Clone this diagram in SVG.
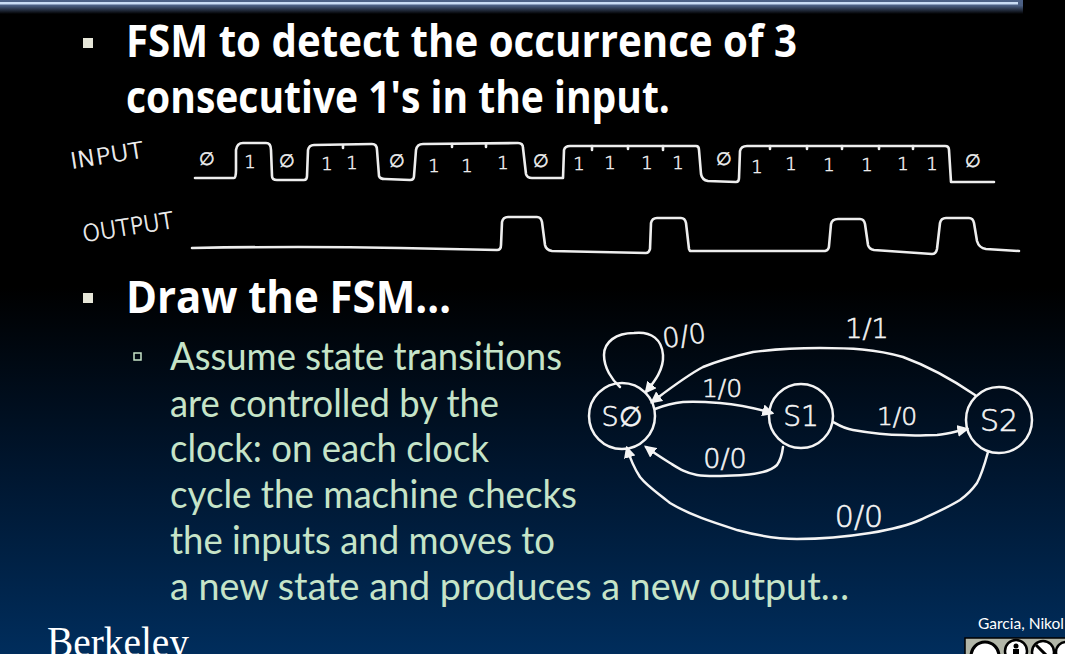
<svg xmlns="http://www.w3.org/2000/svg" width="1065" height="654" viewBox="0 0 1065 654">
<style>
.title{font-family:"Open Sans","Liberation Sans",sans-serif;font-weight:700;font-size:44px;fill:#fff}
.sub{font-family:"Lato","Liberation Sans",sans-serif;font-weight:400;font-size:38px;fill:#c6e4c8}
.hw{fill:none;stroke:#f4f4f4;stroke-width:2.5;stroke-linecap:round;stroke-linejoin:round}
.wave{fill:none;stroke:#eee;stroke-width:2.6;stroke-linecap:round;stroke-linejoin:round}
.lab{font-family:"DejaVu Sans",sans-serif;font-weight:200;fill:#f4f4f4;stroke:#f4f4f4;stroke-width:.6;text-anchor:middle}
.bit{font-family:"DejaVu Sans",sans-serif;font-weight:200;font-size:18px;fill:#f0f0f0;stroke:#f0f0f0;stroke-width:.5;text-anchor:middle}
.node{fill:none;stroke:#f4f4f4;stroke-width:2.5}
</style>
<defs>
<linearGradient id="bg" x1="0" y1="0" x2="0" y2="1">
<stop offset="0" stop-color="#000"/><stop offset="0.44" stop-color="#000"/><stop offset="0.72" stop-color="#00162f"/><stop offset="1" stop-color="#002d5c"/>
</linearGradient>
<linearGradient id="glow" x1="0" y1="0" x2="0" y2="1">
<stop offset="0" stop-color="#4d6288"/><stop offset="0.4" stop-color="#4a5e82"/><stop offset="1" stop-color="#000"/>
</linearGradient>
<marker id="arr" viewBox="0 0 10 10" refX="8" refY="5" markerWidth="12" markerHeight="12" markerUnits="userSpaceOnUse" orient="auto"><path d="M0 0L10 5L0 10Z" fill="#f4f4f4"/></marker>
</defs>
<rect width="1065" height="654" fill="url(#bg)"/>
<rect x="0" y="0" width="1023" height="14" fill="url(#glow)"/>
<rect x="0" y="2" width="1018" height="2.5" fill="#c9dcf4"/>

<g id="heading">
<rect x="83" y="38" width="10" height="10" fill="#e6e6d8"/>
<text class="title" x="126" y="57" textLength="671" lengthAdjust="spacingAndGlyphs">FSM to detect the occurrence of 3</text>
<text class="title" x="126" y="113" textLength="544" lengthAdjust="spacingAndGlyphs">consecutive 1's in the input.</text>
<rect x="83" y="293" width="10" height="10" fill="#e6e6d8"/>
<text class="title" x="126" y="313" textLength="325" lengthAdjust="spacingAndGlyphs">Draw the FSM…</text>
<rect x="134" y="353" width="7" height="7" fill="none" stroke="#c6e4c8" stroke-width="1.5"/>
<text class="sub" x="170" y="370" textLength="392" lengthAdjust="spacingAndGlyphs">Assume state transitions</text>
<text class="sub" x="170" y="417" textLength="329" lengthAdjust="spacingAndGlyphs">are controlled by the</text>
<text class="sub" x="170" y="462" textLength="319" lengthAdjust="spacingAndGlyphs">clock: on each clock</text>
<text class="sub" x="170" y="508" textLength="407" lengthAdjust="spacingAndGlyphs">cycle the machine checks</text>
<text class="sub" x="170" y="554" textLength="385" lengthAdjust="spacingAndGlyphs">the inputs and moves to</text>
<text class="sub" x="170" y="600" textLength="679" lengthAdjust="spacingAndGlyphs">a new state and produces a new output…</text>
</g>

<g id="waveforms">
<text class="lab" font-size="22" x="107" y="163" transform="rotate(-9 107 157)" textLength="74" lengthAdjust="spacingAndGlyphs">INPUT</text>
<text class="lab" font-size="23" x="128" y="235" transform="rotate(-9 128 228)" textLength="92" lengthAdjust="spacingAndGlyphs">OUTPUT</text>
<path class="wave" d="M195 178L234 178Q236 178 236 170L236 150Q237 143 243 143L266 143Q271 143 271 150L272 176Q272 180 277 180L304 180Q307 180 307 176L308 150Q309 145 314 145L372 144Q377 144 377 150L379 176Q380 179 385 179L410 180Q414 180 414 176L416 150Q417 144 423 144L518 143Q523 143 523 148L526 174Q527 178 532 178L563 178L564 150Q565 146 570 146L696 146Q699 146 699 150L701 174Q702 180 708 181L736 182Q739 182 739 178L740 151Q741 146 747 146L945 146Q949 146 949 150L951 182L994 182"/>
<path class="wave" d="M343 145v3M452 144v3M486 144v3M592 146v4M628 146v3M663 146v4M770 146v3M807 146v3M842 146v3M879 146v3M913 146v3"/>
<path class="wave" d="M192 248Q300 246 400 248T497 250Q501 250 501 245L502 222Q503 217 508 217L537 217Q541 217 542 222L545 245Q546 250 552 251L646 253Q649 253 650 249L651 223Q652 218 657 218L681 218Q685 218 686 223L689 249L690 251L825 251Q829 250 829 246L831 224Q832 219 838 219L860 219Q864 219 865 224L868 245Q869 249 874 250L932 254Q936 254 937 249L940 223Q941 218 946 218L969 218Q973 218 974 223L977 241Q979 248 986 249L1019 251"/>
<g>
<text class="bit" x="207" y="165">∅</text><text class="bit" x="250" y="168">1</text><text class="bit" x="287" y="167">∅</text><text class="bit" x="327" y="170">1</text><text class="bit" x="352" y="169">1</text><text class="bit" x="397" y="167">∅</text><text class="bit" x="434" y="172">1</text><text class="bit" x="467" y="172">1</text><text class="bit" x="503" y="169">1</text><text class="bit" x="541" y="167">∅</text>
<text class="bit" x="579" y="170">1</text><text class="bit" x="610" y="169">1</text><text class="bit" x="647" y="169">1</text><text class="bit" x="678" y="169">1</text><text class="bit" x="724" y="165">∅</text><text class="bit" x="757" y="173">1</text><text class="bit" x="791" y="170">1</text><text class="bit" x="829" y="171">1</text><text class="bit" x="867" y="171">1</text><text class="bit" x="903" y="170">1</text><text class="bit" x="932" y="170">1</text><text class="bit" x="973" y="167">∅</text>
</g>
</g>

<g id="connectors">
<path class="hw" marker-end="url(#arr)" d="M620 387C612 380 604 368 604 355C604 342 616 333 634 333C652 331 662 340 663 355C664 370 654 382 646 392"/>
<path class="hw" marker-end="url(#arr)" d="M975 395C950 378 925 365 903 357C875 349 850 348 820 348C795 348 775 349 753 352C735 356 718 361 703 367C686 376 668 390 652 402"/>
<path class="hw" marker-end="url(#arr)" d="M655 409C665 405 673 403 683 402C695 401 708 402 720 403C740 405 755 408 772 413"/>
<path class="hw" marker-end="url(#arr)" d="M783 447C782 455 780 461 777 465C770 472 757 474 743 475C725 476 710 477 697 475C685 473 678 468 670 463C662 458 654 453 646 447"/>
<path class="hw" marker-end="url(#arr)" d="M833 422C840 426 845 429 853 430C870 433 885 435 903 435C915 436 926 435 937 435C948 434 957 431 967 429"/>
<path class="hw" marker-end="url(#arr)" d="M988 452C985 463 982 474 977 483C972 490 967 495 960 500C947 508 933 514 920 520C905 527 888 530 870 533C845 537 820 539 797 539C775 539 755 535 737 530C712 522 690 515 670 503C658 493 648 487 640 477C634 468 630 458 627 448"/>
<text class="lab" font-size="27" x="684" y="345" transform="rotate(-8 684 335)">0/0</text>
<text class="lab" font-size="27" x="867" y="338">1/1</text>
<text class="lab" font-size="25" x="722" y="397">1/0</text>
<text class="lab" font-size="25" x="897" y="425">1/0</text>
<text class="lab" font-size="27" x="725" y="468">0/0</text>
<text class="lab" font-size="30" x="859" y="527">0/0</text>
</g>

<g id="S0"><circle class="node" cx="622" cy="416" r="33"/><text class="lab" font-size="27" x="622" y="426">S∅</text></g>
<g id="S1"><circle class="node" cx="801" cy="416" r="32"/><text class="lab" font-size="28" x="801" y="426">S1</text></g>
<g id="S2"><circle class="node" cx="999" cy="420" r="33"/><text class="lab" font-size="30" x="999" y="431">S2</text></g>

<g id="footer">
<text x="47" y="656" font-family="Liberation Serif,serif" font-size="42" fill="#fff" textLength="142" lengthAdjust="spacingAndGlyphs">Berkeley</text>
<text x="978" y="629" font-family="Lato,Liberation Sans,sans-serif" font-size="16" fill="#fff" textLength="86" lengthAdjust="spacingAndGlyphs">Garcia, Nikol</text>
<rect x="965" y="638" width="110" height="24" fill="#b2b6a8" stroke="#000" stroke-width="1.5"/>
<circle cx="985" cy="656" r="14" fill="#fff" stroke="#000" stroke-width="3"/>
<circle cx="1016" cy="651" r="11" fill="#fff" stroke="#000" stroke-width="2.5"/>
<circle cx="1016" cy="646" r="2.5" fill="#000"/><rect x="1013" y="649" width="6" height="10" fill="#000"/>
<circle cx="1043" cy="652" r="11" fill="#fff" stroke="#000" stroke-width="2.5"/>
<path d="M1036 645L1050 659" stroke="#000" stroke-width="3"/>
<circle cx="1066" cy="652" r="10" fill="#fff" stroke="#000" stroke-width="2.5"/>
</g>
</svg>
